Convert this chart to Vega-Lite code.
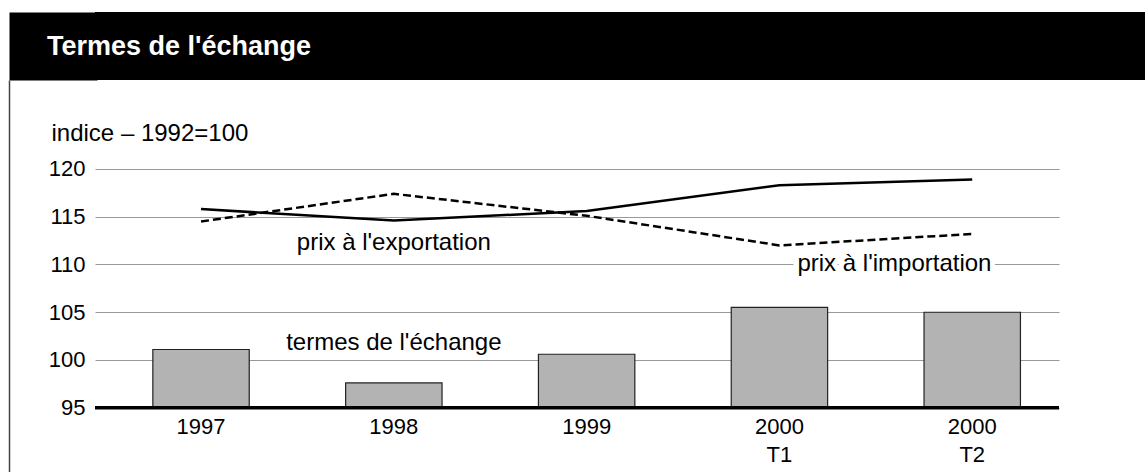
{
  "$schema": "https://vega.github.io/schema/vega-lite/v6.json",
  "padding": {"left": 9, "top": 12, "right": 0, "bottom": 0},
  "background": "white",
  "spacing": 0,
  "datasets": {
    "series": [
      {"periode": "1997", "termes": 101.1, "exportation": 115.8, "importation": 114.5},
      {"periode": "1998", "termes": 97.6, "exportation": 114.6, "importation": 117.4},
      {"periode": "1999", "termes": 100.6, "exportation": 115.6, "importation": 115.1},
      {"periode": "2000 T1", "termes": 105.5, "exportation": 118.3, "importation": 112.0},
      {"periode": "2000 T2", "termes": 105.0, "exportation": 118.9, "importation": 113.2}
    ],
    "labels": [
      {"periode": "1998", "niveau": 112.25, "texte": "prix à l'exportation"},
      {"periode": "1998", "niveau": 101.8, "texte": "termes de l'échange"}
    ],
    "label_imp": [
      {"periode": "2000 T1", "niveau": 110, "texte": "prix à l'importation"}
    ],
    "bandeau": [{"v": 0}]
  },
  "config": {"font": "Liberation Sans", "view": {"stroke": null}},
  "vconcat": [
    {
      "width": 1050,
      "height": 68,
      "view": {"fill": "black", "stroke": null},
      "title": {
        "text": "Termes de l'échange",
        "anchor": "start",
        "frame": "group",
        "orient": "top",
        "offset": -70,
        "baseline": "alphabetic",
        "dx": -48,
        "color": "white",
        "font": "Liberation Sans",
        "fontSize": 27,
        "fontWeight": "bold"
      },
      "data": {"name": "bandeau"},
      "mark": {"type": "point", "opacity": 0},
      "encoding": {
        "y": {
          "field": "v", "type": "quantitative",
          "axis": {"orient": "left", "offset": 42, "domain": true, "domainColor": "black", "domainWidth": 88,
                   "labels": false, "ticks": false, "grid": false, "title": null}
        }
      }
    },
    {
      "width": 964,
      "height": 392,
      "layer": [
        {
          "layer": [
            {
              "data": {"name": "series"},
              "mark": {"type": "bar", "fill": "#b3b3b3", "stroke": "#222", "strokeWidth": 1.2},
              "encoding": {
                "x": {
                  "field": "periode", "type": "nominal", "sort": null, "title": null,
                  "scale": {"paddingInner": 0.5, "paddingOuter": 0.25, "align": 0.6},
                  "axis": {"orient": "bottom", "offset": -64, "domain": false, "ticks": false, "grid": false,
                           "labelAngle": 0, "labelFontSize": 22, "labelPadding": 8, "labelColor": "black",
                           "labelExpr": "split(datum.label, ' ')", "labelLineHeight": 28}
                },
                "y": {
                  "field": "termes", "type": "quantitative", "title": "indice – 1992=100",
                  "scale": {"domain": [88.27, 129.32], "nice": false, "zero": false},
                  "axis": {"values": [95, 100, 105, 110, 115, 120], "grid": true, "gridColor": "#999", "gridWidth": 1,
                           "domain": false, "ticks": false, "labelFontSize": 22, "labelPadding": 10, "labelColor": "black",
                           "titleAngle": 0, "titleAlign": "left", "titleBaseline": "middle", "titleX": -44, "titleY": 53,
                           "titleFontSize": 24, "titleFontWeight": "normal", "titleColor": "black"}
                },
                "y2": {"datum": 95}
              }
            },
            {
              "data": {"name": "label_imp"},
              "mark": {"type": "text", "fontSize": 24, "baseline": "middle", "align": "left", "dx": 18,
                       "fill": "white", "stroke": "white", "strokeWidth": 10},
              "encoding": {
                "x": {"field": "periode", "type": "nominal", "sort": null, "title": null},
                "y": {"field": "niveau", "type": "quantitative", "title": "indice – 1992=100"},
                "text": {"field": "texte"}
              }
            },
            {
              "data": {"name": "series"},
              "mark": {"type": "line", "color": "black", "strokeWidth": 2.5},
              "encoding": {
                "x": {"field": "periode", "type": "nominal", "sort": null, "title": null},
                "y": {"field": "exportation", "type": "quantitative", "title": "indice – 1992=100"}
              }
            },
            {
              "data": {"name": "series"},
              "mark": {"type": "line", "color": "black", "strokeWidth": 2.5, "strokeDash": [8, 4]},
              "encoding": {
                "x": {"field": "periode", "type": "nominal", "sort": null, "title": null},
                "y": {"field": "importation", "type": "quantitative", "title": "indice – 1992=100"}
              }
            },
            {
              "data": {"values": [{}]},
              "mark": {"type": "rule", "color": "black", "strokeWidth": 3.5},
              "encoding": {"y": {"datum": 95}}
            },
            {
              "data": {"name": "labels"},
              "mark": {"type": "text", "fontSize": 24, "baseline": "middle", "align": "center", "color": "black"},
              "encoding": {
                "x": {"field": "periode", "type": "nominal", "sort": null, "title": null},
                "y": {"field": "niveau", "type": "quantitative", "title": "indice – 1992=100"},
                "text": {"field": "texte"}
              }
            },
            {
              "data": {"name": "label_imp"},
              "mark": {"type": "text", "fontSize": 24, "baseline": "middle", "align": "left", "dx": 18, "color": "black"},
              "encoding": {
                "x": {"field": "periode", "type": "nominal", "sort": null, "title": null},
                "y": {"field": "niveau", "type": "quantitative", "title": "indice – 1992=100"},
                "text": {"field": "texte"}
              }
            }
          ]
        },
        {
          "data": {"name": "series"},
          "mark": {"type": "point", "opacity": 0},
          "encoding": {
            "y": {
              "field": "termes", "type": "quantitative",
              "axis": {"orient": "left", "offset": 86, "domain": true, "domainColor": "#444", "domainWidth": 1.5,
                       "labels": false, "ticks": false, "grid": false, "title": null}
            }
          }
        }
      ],
      "resolve": {"scale": {"y": "independent"}}
    }
  ]
}
